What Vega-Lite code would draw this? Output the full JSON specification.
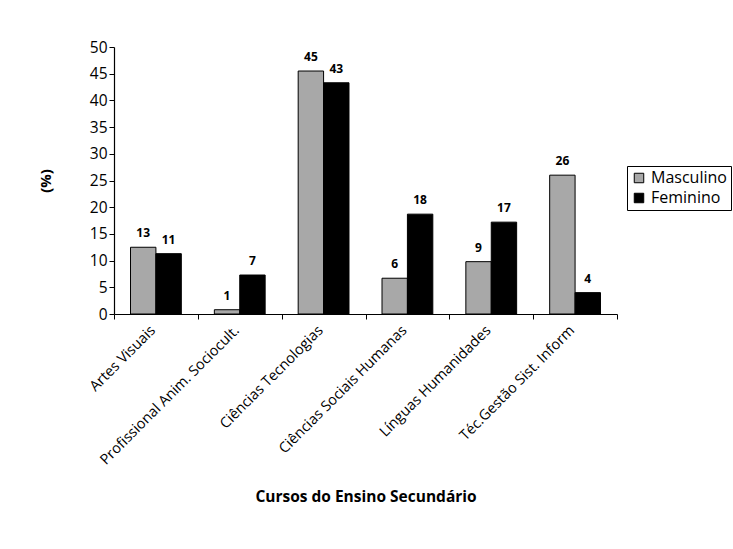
{
  "$schema": "https://vega.github.io/schema/vega-lite/v6.json",
  "autosize": "none",
  "width": 503,
  "height": 267,
  "padding": {"left": 114, "top": 47, "right": 116, "bottom": 235},
  "background": "white",
  "config": {
    "font": "Open Sans",
    "view": {"stroke": null},
    "axis": {"domainColor": "black", "tickColor": "black", "labelColor": "black", "titleColor": "black", "grid": false}
  },
  "data": {
    "values": [
      {"curso": "Artes Visuais", "sexo": "Masculino", "valor": 12.5, "rotulo": "13"},
      {"curso": "Artes Visuais", "sexo": "Feminino", "valor": 11.3, "rotulo": "11"},
      {"curso": "Profissional Anim. Sociocult.", "sexo": "Masculino", "valor": 0.8, "rotulo": "1"},
      {"curso": "Profissional Anim. Sociocult.", "sexo": "Feminino", "valor": 7.3, "rotulo": "7"},
      {"curso": "Ciências Tecnologias", "sexo": "Masculino", "valor": 45.5, "rotulo": "45"},
      {"curso": "Ciências Tecnologias", "sexo": "Feminino", "valor": 43.3, "rotulo": "43"},
      {"curso": "Ciências Sociais Humanas", "sexo": "Masculino", "valor": 6.7, "rotulo": "6"},
      {"curso": "Ciências Sociais Humanas", "sexo": "Feminino", "valor": 18.7, "rotulo": "18"},
      {"curso": "Línguas Humanidades", "sexo": "Masculino", "valor": 9.8, "rotulo": "9"},
      {"curso": "Línguas Humanidades", "sexo": "Feminino", "valor": 17.2, "rotulo": "17"},
      {"curso": "Téc.Gestão Sist. Inform", "sexo": "Masculino", "valor": 26.0, "rotulo": "26"},
      {"curso": "Téc.Gestão Sist. Inform", "sexo": "Feminino", "valor": 4.0, "rotulo": "4"}
    ]
  },
  "encoding": {
    "x": {
      "field": "curso", "type": "nominal", "sort": null,
      "scale": {"paddingInner": 0, "paddingOuter": 0},
      "axis": {
        "title": "Cursos do Ensino Secundário",
        "titleFontSize": 15.5, "titleFontWeight": "bold", "titlePadding": 23,
        "labelAngle": -45, "labelFontSize": 14.5, "labelPadding": 4, "labelOffset": -8,
        "tickBand": "extent", "tickSize": 5, "domainWidth": 1.2, "labelLimit": 300
      }
    },
    "xOffset": {"field": "sexo", "type": "nominal", "sort": ["Masculino", "Feminino"], "scale": {"paddingInner": 0, "paddingOuter": 0.65}},
    "y": {
      "field": "valor", "type": "quantitative",
      "scale": {"domain": [0, 50], "nice": false},
      "axis": {
        "title": "(%)", "titleFontSize": 15, "titleFontWeight": "bold", "titlePadding": 36,
        "values": [0, 5, 10, 15, 20, 25, 30, 35, 40, 45, 50],
        "labelFontSize": 15.5, "tickSize": 5, "domainWidth": 1.2
      }
    }
  },
  "layer": [
    {
      "mark": {"type": "bar", "stroke": "black", "strokeWidth": 1},
      "encoding": {
        "color": {
          "field": "sexo", "type": "nominal", "sort": ["Masculino", "Feminino"],
          "scale": {"domain": ["Masculino", "Feminino"], "range": ["#a8a8a8", "#000000"]},
          "legend": {
            "title": null, "orient": "none", "legendX": 513, "legendY": 119,
            "strokeColor": "black", "padding": 4, "symbolType": "square",
            "symbolSize": 90, "symbolStrokeColor": "black", "symbolStrokeWidth": 1,
            "labelFontSize": 16, "labelColor": "black", "rowPadding": 4, "fillColor": "white"
          }
        }
      }
    },
    {
      "mark": {"type": "text", "dy": -14, "fontWeight": "bold", "fontSize": 12, "color": "black"},
      "encoding": {"text": {"field": "rotulo"}}
    }
  ]
}
